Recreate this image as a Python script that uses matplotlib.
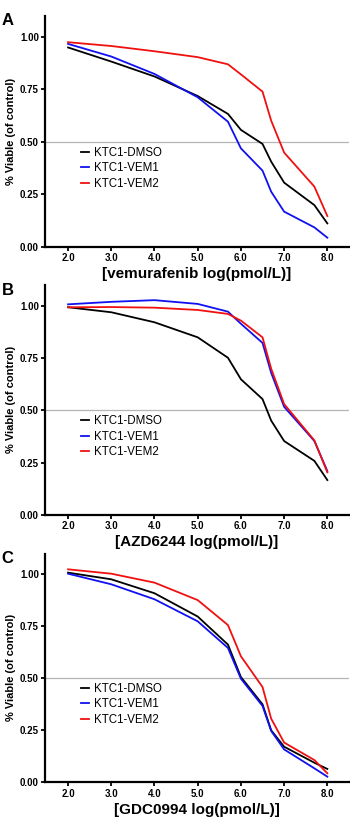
import numpy as np
import matplotlib
matplotlib.use("Agg")
import matplotlib.pyplot as plt

plt.rcParams['font.family'] = ['Liberation Sans', 'DejaVu Sans']

# log concentration (pmol/L)
DOSES = [2.0, 3.0, 4.0, 5.0, 5.7, 6.0, 6.5, 6.7, 7.0, 7.7, 8.0]
SERIES_NAMES = ['KTC1-DMSO', 'KTC1-VEM1', 'KTC1-VEM2']
SERIES_COLORS = ['#000000', '#1010f0', '#f01010']
X_TICKS = [2.0, 3.0, 4.0, 5.0, 6.0, 7.0, 8.0]
Y_TICKS = [0.0, 0.25, 0.50, 0.75, 1.00]

# panel A: vemurafenib
VEMU_DMSO = [0.948, 0.881, 0.810, 0.717, 0.632, 0.556, 0.489, 0.405, 0.305, 0.198, 0.111]
VEMU_VEM1 = [0.965, 0.905, 0.822, 0.711, 0.595, 0.468, 0.362, 0.262, 0.167, 0.092, 0.043]
VEMU_VEM2 = [0.973, 0.955, 0.930, 0.902, 0.868, 0.820, 0.738, 0.600, 0.448, 0.286, 0.146]

# panel B: AZD6244
AZD_DMSO = [0.994, 0.970, 0.922, 0.850, 0.752, 0.649, 0.554, 0.451, 0.353, 0.258, 0.166]
AZD_VEM1 = [1.008, 1.020, 1.028, 1.010, 0.973, 0.915, 0.823, 0.680, 0.517, 0.353, 0.209]
AZD_VEM2 = [0.994, 0.995, 0.992, 0.981, 0.962, 0.930, 0.850, 0.700, 0.530, 0.356, 0.203]

# panel C: GDC0994
GDC_DMSO = [1.008, 0.976, 0.909, 0.797, 0.662, 0.506, 0.375, 0.250, 0.171, 0.094, 0.064]
GDC_VEM1 = [1.003, 0.952, 0.880, 0.774, 0.646, 0.498, 0.367, 0.247, 0.158, 0.067, 0.027]
GDC_VEM2 = [1.024, 1.003, 0.960, 0.876, 0.756, 0.606, 0.458, 0.306, 0.191, 0.107, 0.043]

PANELS = [
    ('A', '[vemurafenib log(pmol/L)]', [VEMU_DMSO, VEMU_VEM1, VEMU_VEM2]),
    ('B', '[AZD6244 log(pmol/L)]', [AZD_DMSO, AZD_VEM1, AZD_VEM2]),
    ('C', '[GDC0994 log(pmol/L)]', [GDC_DMSO, GDC_VEM1, GDC_VEM2]),
]

# axes boxes in figure fractions (left, bottom, width, height)
AX_RECTS = [
    (0.129, 0.698, 0.868, 0.283),
    (0.129, 0.370, 0.868, 0.281),
    (0.129, 0.0425, 0.868, 0.280),
]


def draw_panel(fig, rect, letter, xlabel, values):
    ax = fig.add_axes(rect)
    ax.axhline(0.5, color='#b4b4b4', linewidth=0.9, zorder=1)
    for vals, name, col in zip(values, SERIES_NAMES, SERIES_COLORS):
        ax.plot(DOSES, vals, color=col, linewidth=1.3, label=name, zorder=3)

    ax.set_xlim(1.47, 8.5)
    ax.set_ylim(0, 1.1)
    ax.set_xticks(X_TICKS)
    ax.set_xticklabels([f'{t:.1f}' for t in X_TICKS])
    ax.set_yticks(Y_TICKS)
    ax.set_yticklabels([f'{t:.2f}' for t in Y_TICKS])

    for side in ['top', 'right']:
        ax.spines[side].set_visible(False)
    for side in ['left', 'bottom']:
        ax.spines[side].set_linewidth(1.6)
    ax.tick_params(direction='out', length=3, width=1.3, pad=1.5,
                   labelsize=7)
    for lbl in ax.get_xticklabels() + ax.get_yticklabels():
        lbl.set_fontweight('bold')

    ax.set_ylabel('% Viable (of control)', fontsize=8, fontweight='bold', labelpad=3)
    ax.set_xlabel(xlabel, fontsize=11, fontweight='bold', labelpad=3)

    ax.legend(loc='center left', bbox_to_anchor=(0.09, 0.34), frameon=False,
              fontsize=8.3, handlelength=0.7, handletextpad=0.5,
              labelspacing=0.3, borderpad=0.2)

    fig.text(0.005, rect[1] + rect[3] + 0.003, letter, fontsize=12,
             fontweight='bold', va='top', ha='left')
    return ax


fig = plt.figure(figsize=(3.5, 8.17), dpi=100)
for (letter, xlabel, values), rect in zip(PANELS, AX_RECTS):
    draw_panel(fig, rect, letter, xlabel, values)

fig.savefig('out.png', dpi=100)
